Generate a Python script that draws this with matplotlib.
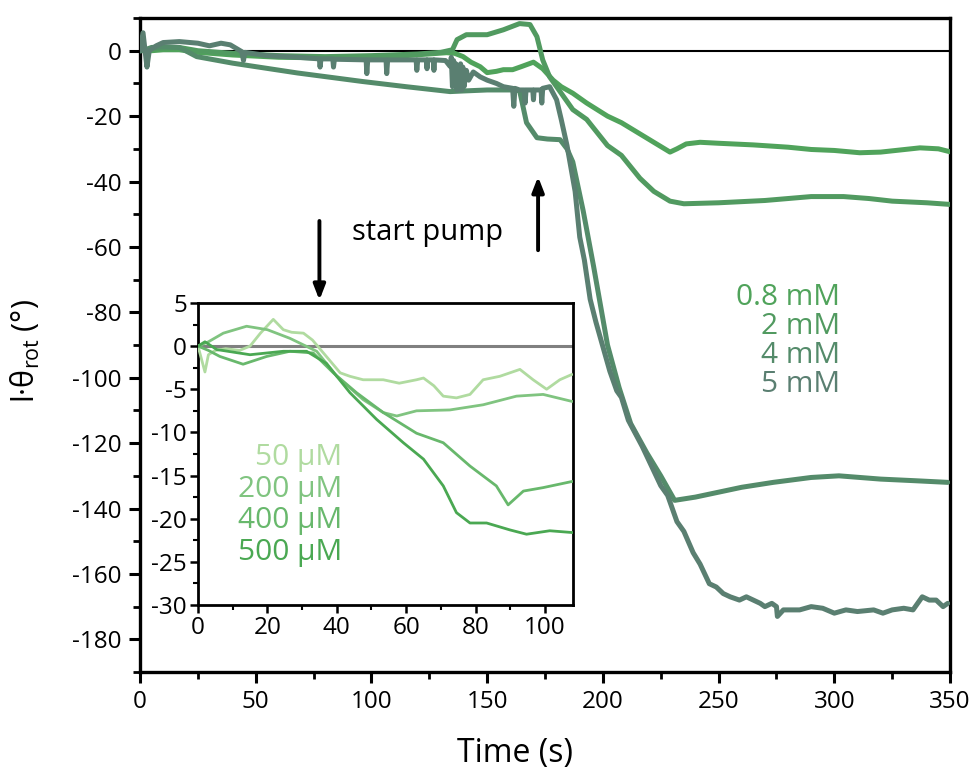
import matplotlib
matplotlib.use("Agg")
import matplotlib.pyplot as plt
from matplotlib.ticker import MultipleLocator

plt.rcParams['font.family'] = ['Open Sans', 'DejaVu Sans']
plt.rcParams['mathtext.fontset'] = 'custom'
plt.rcParams['mathtext.rm'] = 'Open Sans'
plt.rcParams['mathtext.it'] = 'Open Sans:italic'
plt.rcParams['axes.unicode_minus'] = False

# ---- main traces: rotation vs time for mM concentrations ----
conc_labels = ["0.8 mM", "2 mM", "4 mM", "5 mM"]
conc_colors = ["#50a35b", "#519a60", "#548b6a", "#5a7f71"]

t_08 = [0, 1, 5, 10, 17, 25, 40, 60, 80, 96, 115, 132.5, 136, 139.6, 143, 147, 150, 154,
        157, 161, 165, 170, 174, 178.5, 182, 187, 193, 202, 208, 215, 222, 229, 232, 236,
        242, 250, 265, 280, 290, 300, 311, 320, 337, 345, 350]
v_08 = [0, 0.5, 0, 0.3, 0.3, -0.5, -1.3, -2, -2.2, -2, -1.5, -0.6, -0.8, -1.8, -3.5, -4.9,
        -6.7, -6.3, -5.8, -5.8, -4.8, -3.5, -5.5, -9, -11, -13, -16, -20, -22, -25, -28, -31,
        -30, -28.5, -28, -28.3, -28.8, -29.5, -30.2, -30.5, -31.2, -31, -29.7, -30, -30.9]

t_2 = [0, 5, 10, 17, 25, 40, 60, 80, 100, 120, 130, 135, 137, 141, 150, 157, 164, 168.5,
       171.5, 174, 177, 182, 187, 193, 202, 208, 216, 222, 229, 235, 250, 270, 290, 304,
       315, 325, 340, 350]
v_2 = [0, 0.5, 0.8, 1, 0, -0.8, -1.5, -1.8, -1.5, -1, -0.5, 0.3, 3.4, 4.9, 4.9, 6.4, 8.3, 8,
       4.3, -2.8, -8, -13, -18, -21, -29, -32, -39, -43, -46, -46.8, -46.5, -45.8, -44.6,
       -44.6, -45.2, -46, -46.5, -47]

t_4 = [0, 1, 5, 10, 17, 24.5, 40, 68, 96, 115, 134, 140, 150, 160, 164, 167, 171.5, 176,
       181.5, 184.5, 187, 191.5, 196, 202, 207, 212, 219, 225, 231, 240, 250, 260, 273.6,
       290, 302, 320, 335, 349]
v_4 = [0, 0, 1, 1.2, 1, -1.8, -3.8, -6.8, -9.4, -11, -12.5, -12.3, -12, -12, -12.2, -22,
       -26.6, -27, -27.2, -30, -34, -49, -66, -90, -103, -114, -123, -130, -137.5, -136.5,
       -135, -133.5, -132, -130.5, -130, -131, -131.5, -132]

t_5 = [0, 1.3, 3, 4, 7, 10, 17, 25, 30, 35, 39, 44,
       44.7, 45.3, 55, 68, 77.5, 77.8, 78.2, 83.3, 83.6, 84, 97.7, 98, 98.4, 106.3, 106.6,
       107, 119.3, 119.6, 120, 123.7, 124, 124.3, 126.7, 127, 127.3, 132, 134,
       134.5, 135, 135.5, 136, 136.5, 137, 137.5, 138, 138.5, 139, 139.5, 140, 141, 142,
       144, 147, 150, 154, 157, 161, 161.5, 162, 164, 166, 166.4, 166.8, 169.7, 170, 170.3,
       173.3, 173.6, 174, 177,
       180, 182, 184.5, 186, 188, 190, 192, 194.5, 197, 201, 203, 206, 208, 211, 214, 217,
       221, 225, 228, 232, 235, 239, 242, 246, 249, 252, 255, 259,
       262, 265, 268, 270, 273, 275, 275.4, 278, 281, 285, 290, 295, 300, 305, 310, 317,
       321, 325, 330, 334, 338, 341, 344, 347, 349]
v_5 = [0, 5.5, -5, 0, 1.5, 2.5, 2.8, 2.3, 1.5, 2.3, 1.8, -0.3,
       -3, -0.5, -1.5, -2, -2.5, -5, -2.5, -2.5, -5, -2.6, -2.8, -7, -2.8, -2.8, -7,
       -2.8, -2.8, -6, -2.8, -2.8, -5.5, -2.8, -2.8, -6, -2.8, -3, -4.8,
       -2, -11, -3, -10, -4, -12, -5, -11, -4, -12, -5, -11, -6, -9,
       -6.5, -8, -9, -10, -11, -11.5, -17, -11.5, -12, -12, -16, -12, -12, -15, -12,
       -12, -16, -11.5, -11,
       -15, -21, -29, -35, -43, -57, -64, -76, -83, -93, -98, -104, -106, -113, -117, -121,
       -127, -133, -136, -144, -147, -153.5, -157, -163, -164, -166, -167, -168,
       -167, -168, -169, -170, -169, -170, -173, -171, -171, -171, -170, -170.5, -172, -171,
       -171.5, -171, -172, -171, -170.5, -171, -167, -168, -168, -170, -169]

main_t = [t_08, t_2, t_4, t_5]
main_v = [v_08, v_2, v_4, v_5]

# ---- inset traces: µM concentrations ----
ins_labels = ["50 µM", "200 µM", "400 µM", "500 µM"]
ins_colors = ["#b0dba0", "#80c480", "#68b86c", "#4aa852"]

ti_50 = [0, 1, 2, 3, 5, 8, 12, 15, 18, 21.7, 24.6, 27, 30.4, 33, 37, 41, 43.8, 47.6, 53.4,
         58, 63, 65, 68, 70.7, 74.5, 78.4, 82.2, 87, 92.8, 96.6, 100.5, 104.3, 107.7]
vi_50 = [0, -1.5, -3, -1, -0.5, -0.3, -0.5, 0, 1.5, 3.1, 1.9, 1.6, 1.5, 0.7, -1.2, -3.1,
         -3.5, -3.9, -3.9, -4.3, -3.9, -3.7, -4.6, -5.8, -6.0, -5.6, -3.9, -3.5, -2.7,
         -3.9, -5.0, -3.9, -3.3]

ti_200 = [0, 3, 7.3, 14, 20, 26.5, 34.2, 40, 47.6, 53.4, 57.3, 63, 72.6, 82.2, 91.8,
          99.5, 107.7]
vi_200 = [0, 0.5, 1.5, 2.3, 1.9, 0.9, -0.6, -3.5, -6.2, -7.7, -8.1, -7.5, -7.4, -6.8,
          -5.8, -5.6, -6.4]

ti_400 = [0, 3, 6.3, 13, 19.8, 26.5, 33.2, 39, 45.7, 53.4, 63, 70.7, 78.4, 86, 89.4,
          93.8, 99.5, 107.7]
vi_400 = [0, -0.5, -1.2, -2.1, -1.2, -0.6, -0.8, -3.1, -5.4, -7.7, -10.1, -11.2, -13.9,
          -16.2, -18.4, -16.8, -16.4, -15.7]

ti_500 = [0, 2, 5.4, 15, 24.6, 31.3, 37, 43.8, 51.5, 59.2, 65, 70.7, 74.5, 78.4, 83.2,
          89.9, 94.7, 101.4, 107.7]
vi_500 = [0, 0.5, -0.4, -1, -0.6, -0.6, -2, -5.4, -8.5, -11.2, -13.1, -16.2, -19.3,
          -20.5, -20.5, -21.3, -21.8, -21.4, -21.6]

ins_t = [ti_50, ti_200, ti_400, ti_500]
ins_v = [vi_50, vi_200, vi_400, vi_500]

pump_main = 172   # start of pumping, main series (s)
pump_inset = 35   # start of pumping, inset series (s)

fig = plt.figure(figsize=(9.73, 7.77), dpi=100)
ax = fig.add_axes([0.1439, 0.1351, 0.8325, 0.8417])

for t, v, c in zip(main_t, main_v, conc_colors):
    ax.plot(t, v, color=c, lw=3.6, solid_joinstyle='round', solid_capstyle='round', zorder=3)
ax.axhline(0, color='black', lw=1.5, zorder=2)

ax.set_xlim(0, 350)
ax.set_ylim(-190, 10)
ax.xaxis.set_major_locator(MultipleLocator(50))
ax.xaxis.set_minor_locator(MultipleLocator(25))
ax.yaxis.set_major_locator(MultipleLocator(20))
ax.yaxis.set_minor_locator(MultipleLocator(10))
ax.tick_params(which='major', direction='out', length=8, width=2.2, labelsize=17.5, pad=5)
ax.tick_params(which='minor', direction='out', length=5, width=2.0)
ax.tick_params(top=False, right=False)
for s in ax.spines.values():
    s.set_linewidth(2.4)
ax.set_xlabel("Time (s)", fontsize=23)
ax.xaxis.set_label_coords(0.463, -0.100)
ax.set_ylabel(r"l·θ$_{\mathregular{rot}}$ (°)", fontsize=22)
ax.yaxis.set_label_coords(-0.121, 0.49)

for i, (lab, c) in enumerate(zip(conc_labels, conc_colors)):
    ax.text(0.864, 0.572 - i * 0.0443, lab, color=c, fontsize=21.5,
            ha='right', va='center', transform=ax.transAxes)

ax.text(91.5, -55.7, "start pump", fontsize=21, ha='left', va='center')
ax.annotate("", xy=(pump_main, -38.5), xytext=(pump_main, -61),
            arrowprops=dict(arrowstyle='-|>,head_width=0.35,head_length=0.9',
                            color='black', lw=2.8, shrinkA=0, shrinkB=0))

# ---- inset ----
axi = fig.add_axes([0.2035, 0.2214, 0.3854, 0.3887])
for t, v, c in zip(ins_t, ins_v, ins_colors):
    axi.plot(t, v, color=c, lw=2.0, zorder=3)
axi.axhline(0, color='#808080', lw=2.2, zorder=2)
axi.set_xlim(0, 108.1)
axi.set_ylim(-30, 5)
axi.xaxis.set_major_locator(MultipleLocator(20))
axi.xaxis.set_minor_locator(MultipleLocator(10))
axi.yaxis.set_major_locator(MultipleLocator(5))
axi.yaxis.set_minor_locator(MultipleLocator(2.5))
axi.tick_params(which='major', direction='out', length=6, width=1.8, labelsize=17.5, pad=2)
axi.tick_params(which='minor', direction='out', length=3.5, width=1.5)
for s in axi.spines.values():
    s.set_linewidth(2.0)

for i, (lab, c) in enumerate(zip(ins_labels, ins_colors)):
    axi.text(0.384, 0.487 - i * 0.104, lab, color=c, fontsize=21.5,
             ha='right', va='center', transform=axi.transAxes)

# down arrow marks pump start of the inset series, drawn above the inset frame
ax.annotate("", xy=(pump_inset, 5), xycoords=axi.transData,
            xytext=(pump_inset, 14.5), textcoords=axi.transData,
            arrowprops=dict(arrowstyle='-|>,head_width=0.35,head_length=0.9',
                            color='black', lw=2.8, shrinkA=0, shrinkB=2))

fig.savefig("out.png", dpi=100)
